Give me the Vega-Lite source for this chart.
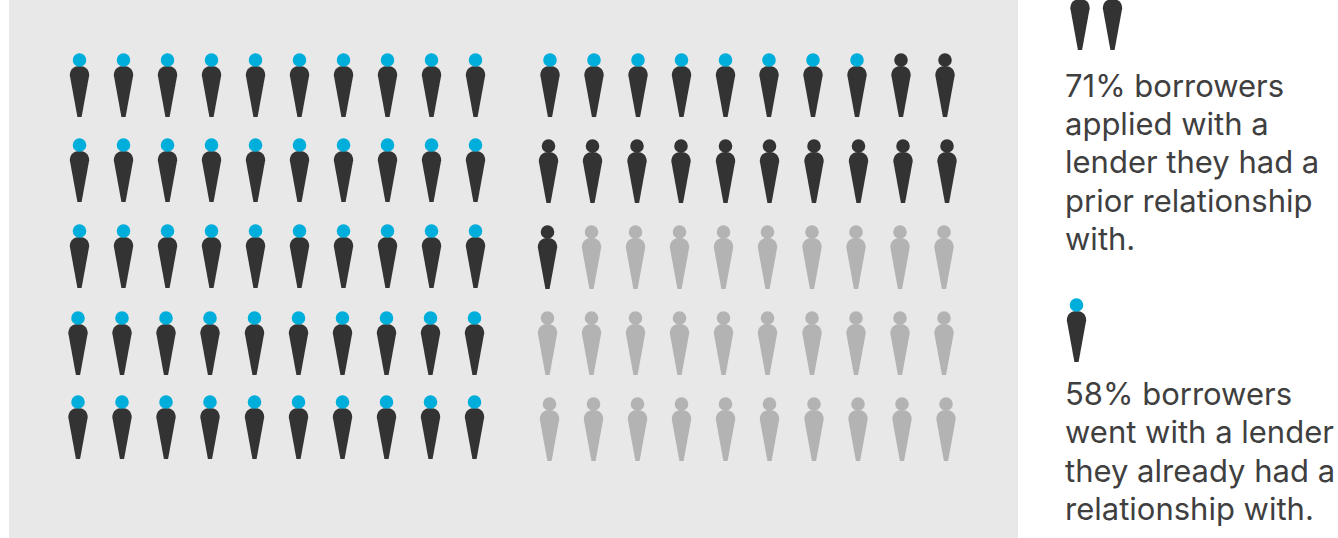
{
  "$schema": "https://vega.github.io/schema/vega-lite/v6.json",
  "width": 1338,
  "height": 538,
  "padding": 0,
  "autosize": {"type": "fit", "contains": "padding"},
  "background": "#ffffff",
  "view": {"stroke": null},
  "datasets": {
    "panel": [{"x0": 9, "x1": 1018, "y0": 0, "y1": 538}],
    "people": [
      {"x":79.5,"y":60,"group":"went"},{"x":123.5,"y":60,"group":"went"},{"x":167.5,"y":60,"group":"went"},{"x":211.5,"y":60,"group":"went"},{"x":255.5,"y":60,"group":"went"},{"x":299.5,"y":60,"group":"went"},{"x":343.5,"y":60,"group":"went"},{"x":387.5,"y":60,"group":"went"},{"x":431.5,"y":60,"group":"went"},{"x":475.5,"y":60,"group":"went"},
      {"x":550,"y":60,"group":"went"},{"x":594,"y":60,"group":"went"},{"x":638,"y":60,"group":"went"},{"x":681.5,"y":60,"group":"went"},{"x":725.5,"y":60,"group":"went"},{"x":769,"y":60,"group":"went"},{"x":813,"y":60,"group":"went"},{"x":857,"y":60,"group":"went"},{"x":901,"y":60,"group":"applied"},{"x":945,"y":60,"group":"applied"},
      {"x":79.5,"y":145,"group":"went"},{"x":123.5,"y":145,"group":"went"},{"x":167.5,"y":145,"group":"went"},{"x":211.5,"y":145,"group":"went"},{"x":255.5,"y":145,"group":"went"},{"x":299.5,"y":145,"group":"went"},{"x":343.5,"y":145,"group":"went"},{"x":387.5,"y":145,"group":"went"},{"x":431.5,"y":145,"group":"went"},{"x":475.5,"y":145,"group":"went"},
      {"x":548.5,"y":146,"group":"applied"},{"x":592.5,"y":146,"group":"applied"},{"x":637,"y":146,"group":"applied"},{"x":681,"y":146,"group":"applied"},{"x":725.5,"y":146,"group":"applied"},{"x":769.5,"y":146,"group":"applied"},{"x":814,"y":146,"group":"applied"},{"x":858.5,"y":146,"group":"applied"},{"x":903,"y":146,"group":"applied"},{"x":947,"y":146,"group":"applied"},
      {"x":79.5,"y":231,"group":"went"},{"x":123.5,"y":231,"group":"went"},{"x":167.5,"y":231,"group":"went"},{"x":211.5,"y":231,"group":"went"},{"x":255.5,"y":231,"group":"went"},{"x":299.5,"y":231,"group":"went"},{"x":343.5,"y":231,"group":"went"},{"x":387.5,"y":231,"group":"went"},{"x":431.5,"y":231,"group":"went"},{"x":475.5,"y":231,"group":"went"},
      {"x":547.5,"y":232,"group":"applied"},{"x":591.5,"y":232,"group":"neither"},{"x":635.5,"y":232,"group":"neither"},{"x":679.5,"y":232,"group":"neither"},{"x":723.5,"y":232,"group":"neither"},{"x":767.5,"y":232,"group":"neither"},{"x":812,"y":232,"group":"neither"},{"x":856,"y":232,"group":"neither"},{"x":900,"y":232,"group":"neither"},{"x":944,"y":232,"group":"neither"},
      {"x":78,"y":318,"group":"went"},{"x":122,"y":318,"group":"went"},{"x":166,"y":318,"group":"went"},{"x":210,"y":318,"group":"went"},{"x":254.5,"y":318,"group":"went"},{"x":298.5,"y":318,"group":"went"},{"x":342.5,"y":318,"group":"went"},{"x":386.5,"y":318,"group":"went"},{"x":430.5,"y":318,"group":"went"},{"x":474.5,"y":318,"group":"went"},
      {"x":547.5,"y":318,"group":"neither"},{"x":591.5,"y":318,"group":"neither"},{"x":635.5,"y":318,"group":"neither"},{"x":679.5,"y":318,"group":"neither"},{"x":723.5,"y":318,"group":"neither"},{"x":767.5,"y":318,"group":"neither"},{"x":812,"y":318,"group":"neither"},{"x":856,"y":318,"group":"neither"},{"x":900,"y":318,"group":"neither"},{"x":944,"y":318,"group":"neither"},
      {"x":78,"y":402,"group":"went"},{"x":122,"y":402,"group":"went"},{"x":166,"y":402,"group":"went"},{"x":210,"y":402,"group":"went"},{"x":254.5,"y":402,"group":"went"},{"x":298.5,"y":402,"group":"went"},{"x":342.5,"y":402,"group":"went"},{"x":386.5,"y":402,"group":"went"},{"x":430.5,"y":402,"group":"went"},{"x":474.5,"y":402,"group":"went"},
      {"x":549.5,"y":404,"group":"neither"},{"x":593.5,"y":404,"group":"neither"},{"x":637.5,"y":404,"group":"neither"},{"x":681.5,"y":404,"group":"neither"},{"x":725.5,"y":404,"group":"neither"},{"x":769.5,"y":404,"group":"neither"},{"x":814,"y":404,"group":"neither"},{"x":858,"y":404,"group":"neither"},{"x":902,"y":404,"group":"neither"},{"x":946,"y":404,"group":"neither"},
      {"x":1080,"y":-7,"group":"applied"},{"x":1112.5,"y":-7,"group":"went"},{"x":1076.5,"y":305,"group":"went"}
    ],
    "notes": [
      {"x":1065,"y":96.5,"line":"71% borrowers"},
      {"x":1065,"y":134.5,"line":"applied with a"},
      {"x":1065,"y":172.5,"line":"lender they had a"},
      {"x":1065,"y":211.5,"line":"prior relationship"},
      {"x":1065,"y":249.5,"line":"with."},
      {"x":1065,"y":404.5,"line":"58% borrowers"},
      {"x":1065,"y":442.5,"line":"went with a lender"},
      {"x":1065,"y":481.5,"line":"they already had a"},
      {"x":1065,"y":519.5,"line":"relationship with."}
    ]
  },
  "layer": [
    {
      "data": {"name": "panel"},
      "mark": {"type": "rect", "color": "#e8e8e8"},
      "encoding": {
        "x": {"field": "x0", "type": "quantitative", "scale": {"domain": [0, 1338]}, "axis": null},
        "x2": {"field": "x1"},
        "y": {"field": "y0", "type": "quantitative", "scale": {"domain": [538, 0]}, "axis": null},
        "y2": {"field": "y1"}
      }
    },
    {
      "data": {"name": "people"},
      "mark": {
        "type": "point",
        "filled": true,
        "opacity": 1,
        "clip": true,
        "shape": "M-0.082 2.235L-0.38 0.6C-0.38 0.35-0.2 0.235 0 0.235C0.2 0.235 0.38 0.35 0.38 0.6L0.082 2.235Z"
      },
      "encoding": {
        "x": {"field": "x", "type": "quantitative", "scale": {"domain": [0, 1338]}, "axis": null},
        "y": {"field": "y", "type": "quantitative", "scale": {"domain": [538, 0]}, "axis": null},
        "size": {"value": 2601},
        "color": {
          "field": "group",
          "type": "nominal",
          "legend": null,
          "scale": {"domain": ["went", "applied", "neither"], "range": ["#333333", "#333333", "#b3b3b3"]}
        }
      }
    },
    {
      "data": {"name": "people"},
      "mark": {"type": "circle", "opacity": 1, "clip": true},
      "encoding": {
        "x": {"field": "x", "type": "quantitative", "scale": {"domain": [0, 1338]}, "axis": null},
        "y": {"field": "y", "type": "quantitative", "scale": {"domain": [538, 0]}, "axis": null},
        "size": {"value": 185},
        "color": {
          "field": "group",
          "type": "nominal",
          "legend": null,
          "scale": {"domain": ["went", "applied", "neither"], "range": ["#00aedb", "#333333", "#b3b3b3"]}
        }
      }
    },
    {
      "data": {"name": "notes"},
      "mark": {"type": "text", "align": "left", "baseline": "alphabetic", "font": "Inter", "fontSize": 31, "fontWeight": 400, "color": "#3f3f3f", "clip": true},
      "encoding": {
        "x": {"field": "x", "type": "quantitative", "scale": {"domain": [0, 1338]}, "axis": null},
        "y": {"field": "y", "type": "quantitative", "scale": {"domain": [538, 0]}, "axis": null},
        "text": {"field": "line", "type": "nominal"}
      }
    }
  ],
  "resolve": {"scale": {"color": "independent"}}
}
